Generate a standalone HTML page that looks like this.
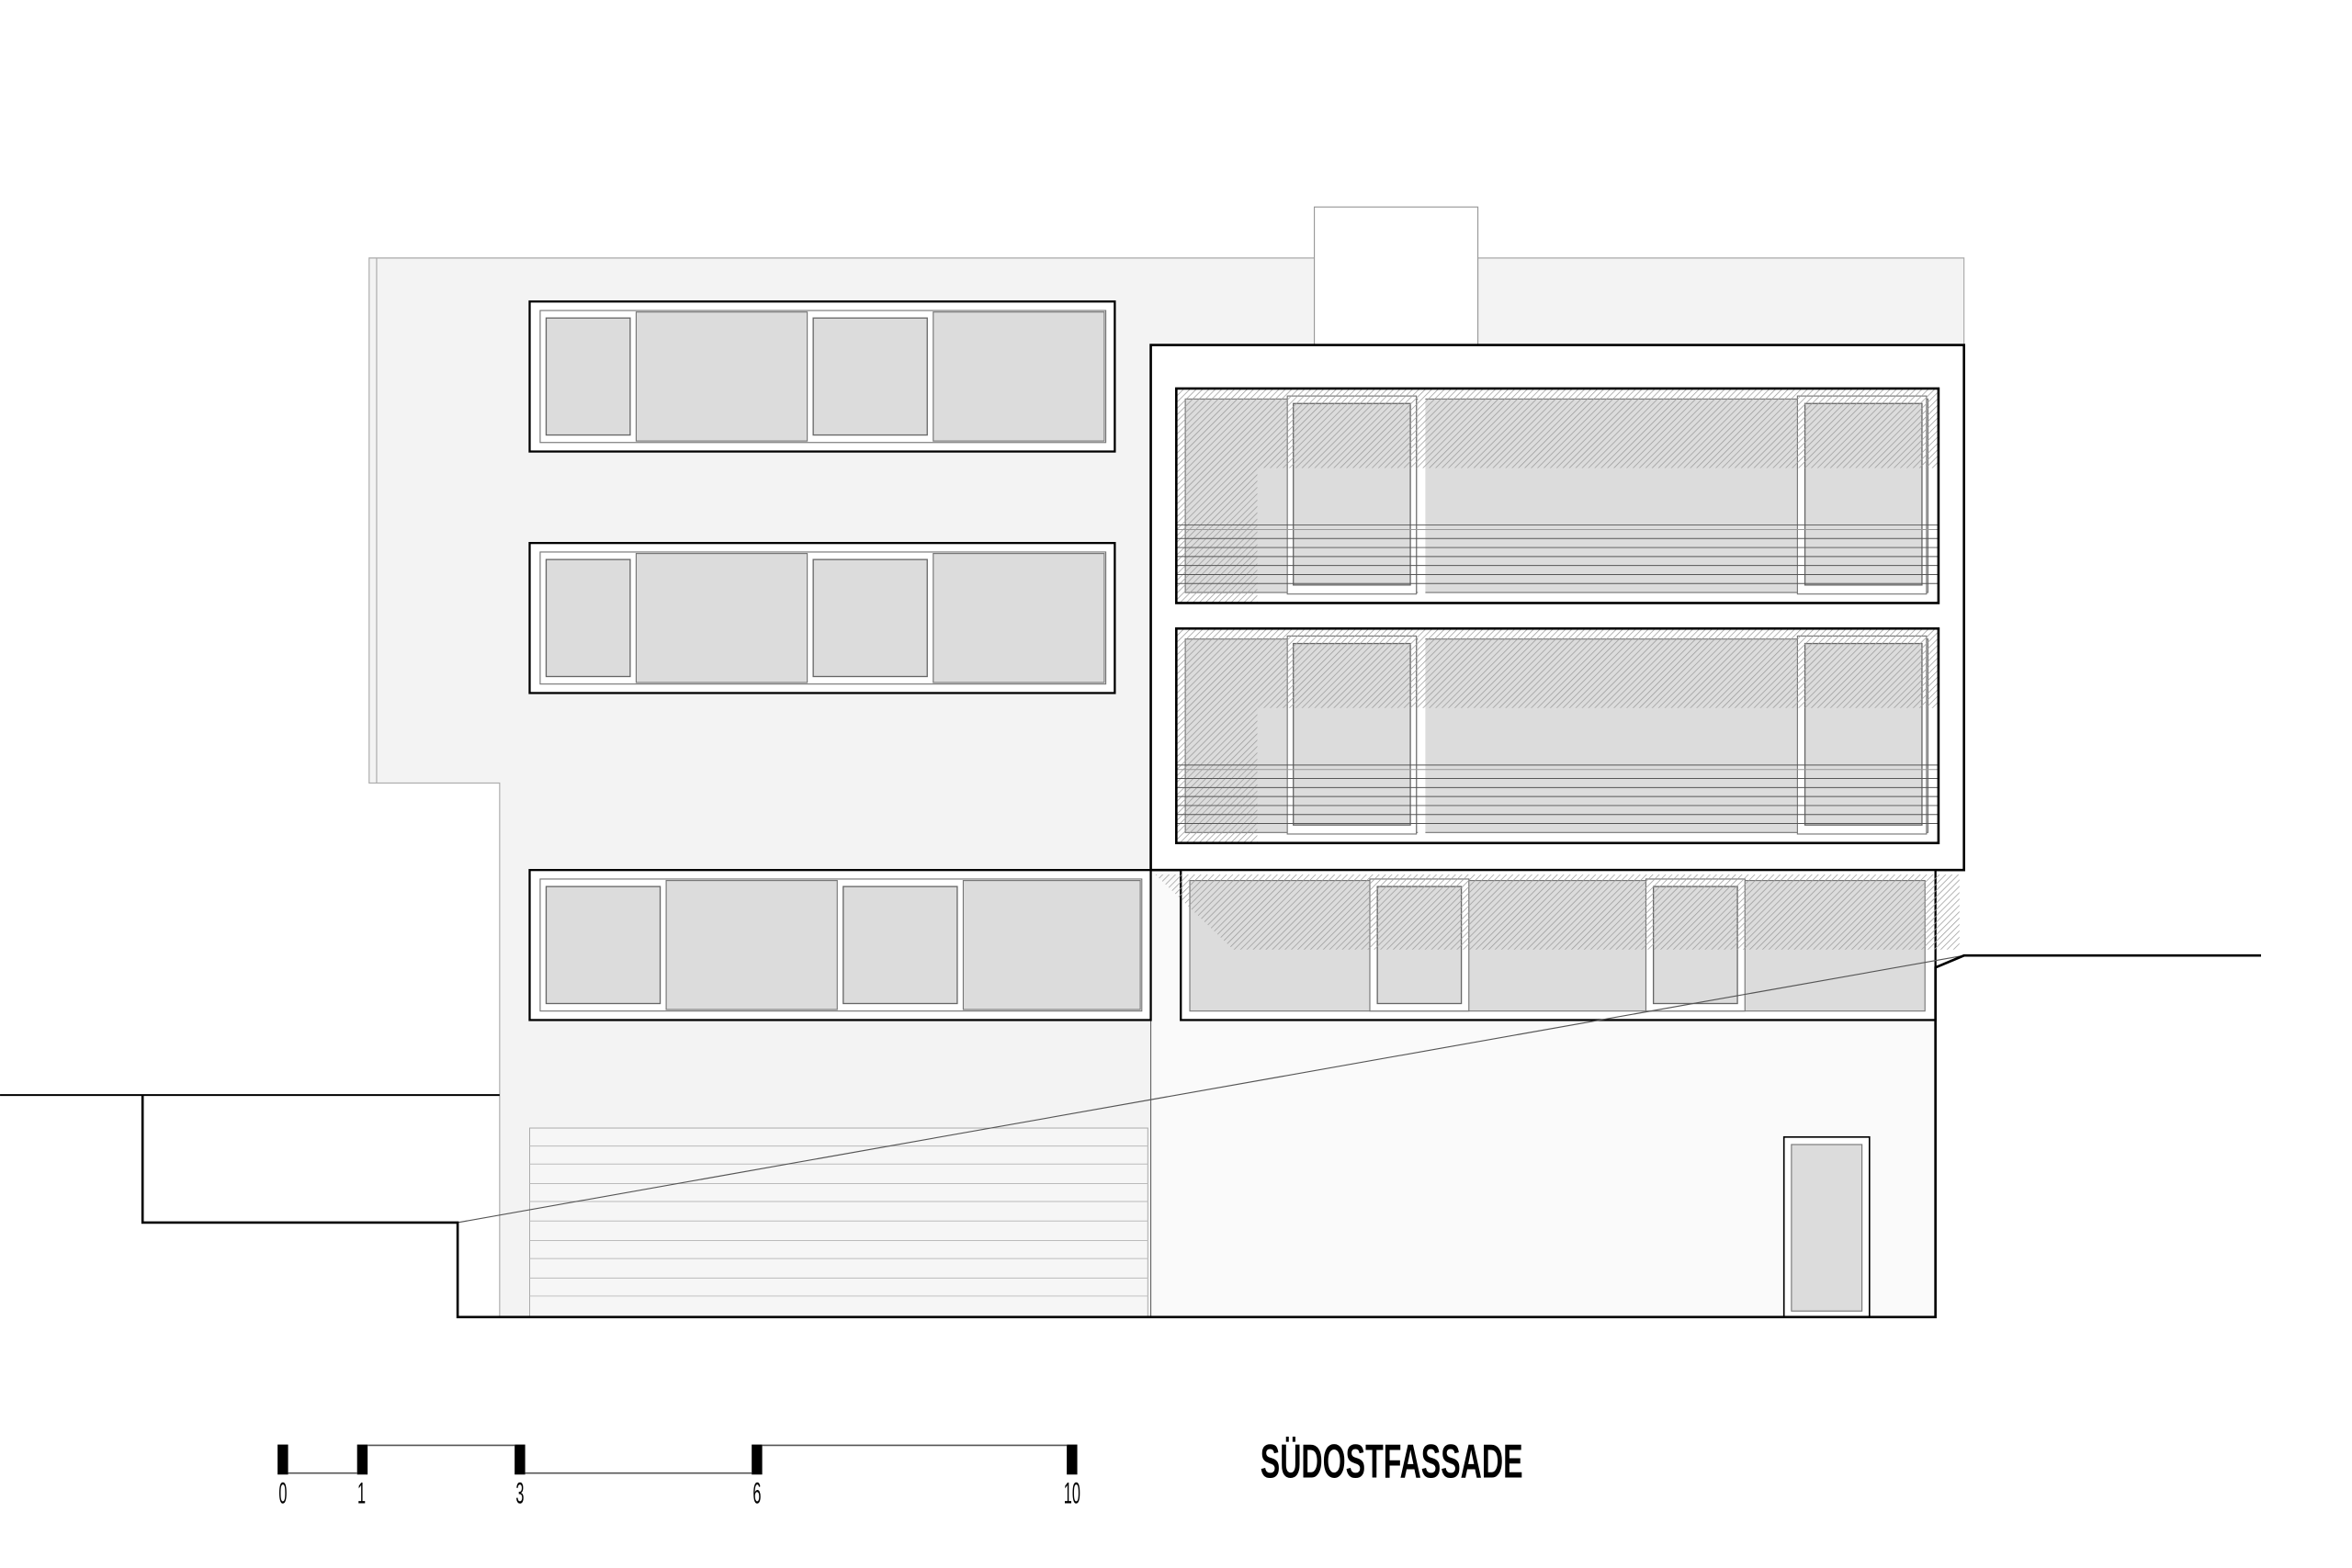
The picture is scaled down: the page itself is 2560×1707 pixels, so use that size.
<!DOCTYPE html>
<html><head><meta charset="utf-8"><style>
html,body{margin:0;padding:0;background:#fff;}
svg{display:block;}
</style></head><body>
<svg width="2560" height="1707" viewBox="0 0 1567.6 1045.3" xmlns="http://www.w3.org/2000/svg">
<defs>
<pattern id="h" patternUnits="userSpaceOnUse" width="3" height="3" patternTransform="rotate(45)">
<rect width="3" height="3" fill="none"/><line x1="0" y1="0" x2="0" y2="3" stroke="#9a9a9a" stroke-width="0.9"/>
</pattern>
<clipPath id="c1"><rect x="784" y="259" width="508" height="143"/></clipPath>
</defs>
<path d="M246 172 H1309 V580 H767 V878 H333 V522 H246 Z" fill="#f3f3f3" stroke="#aaa" stroke-width="0.7"/>
<line x1="251" y1="172" x2="251" y2="522" stroke="#aaa" stroke-width="0.7"/>
<rect x="876" y="138" width="109" height="92" fill="#fff" stroke="#999" stroke-width="0.7"/>
<rect x="767" y="580" width="523" height="298" fill="#fafafa" stroke="#666" stroke-width="0.7"/>
<rect x="767" y="230" width="542" height="350" fill="#fff" stroke="#000" stroke-width="1.6"/>

<g id="wl">
<rect x="353" y="201" width="390" height="100" fill="#fff" stroke="#000" stroke-width="1.4"/>
<rect x="360" y="207" width="377" height="88" fill="#fff" stroke="#777" stroke-width="0.7"/>
<rect x="424" y="208" width="114" height="86" fill="#dcdcdc" stroke="#777" stroke-width="0.7"/>
<rect x="622" y="208" width="114" height="86" fill="#dcdcdc" stroke="#777" stroke-width="0.7"/>
<rect x="364" y="212" width="56" height="78" fill="#dcdcdc" stroke="#666" stroke-width="0.8"/>
<rect x="542" y="212" width="76" height="78" fill="#dcdcdc" stroke="#666" stroke-width="0.8"/>
</g>
<use href="#wl" y="161"/>

<rect x="353" y="580" width="414" height="100" fill="#fff" stroke="#000" stroke-width="1.4"/>
<rect x="360" y="586" width="401" height="88" fill="#fff" stroke="#777" stroke-width="0.7"/>
<rect x="444" y="587" width="114" height="86" fill="#dcdcdc" stroke="#777" stroke-width="0.7"/>
<rect x="642" y="587" width="118" height="86" fill="#dcdcdc" stroke="#777" stroke-width="0.7"/>
<rect x="364" y="591" width="76" height="78" fill="#dcdcdc" stroke="#666" stroke-width="0.8"/>
<rect x="562" y="591" width="76" height="78" fill="#dcdcdc" stroke="#666" stroke-width="0.8"/>

<rect x="787" y="580" width="503" height="100" fill="#fff" stroke="#000" stroke-width="1.4"/>
<rect x="793" y="587" width="490" height="87" fill="#dcdcdc" stroke="#777" stroke-width="0.7"/>
<rect x="913" y="586" width="66" height="88" fill="#fff" stroke="#777" stroke-width="0.7"/>
<rect x="918" y="591" width="56" height="78" fill="#dcdcdc" stroke="#666" stroke-width="0.8"/>
<rect x="1097" y="586" width="66" height="88" fill="#fff" stroke="#777" stroke-width="0.7"/>
<rect x="1102" y="591" width="56" height="78" fill="#dcdcdc" stroke="#666" stroke-width="0.8"/>
<polygon points="770,583 1306,583 1306,633 822,633" fill="url(#h)"/>

<g id="bw">
<rect x="784" y="259" width="508" height="143" fill="#fff"/>
<rect x="790" y="266" width="495" height="129" fill="#dcdcdc" stroke="#777" stroke-width="0.7"/>
<rect x="858" y="264" width="86" height="132" fill="#fff" stroke="#777" stroke-width="0.7"/>
<rect x="862" y="269" width="78" height="121" fill="#dcdcdc" stroke="#666" stroke-width="0.8"/>
<rect x="1198" y="264" width="86" height="132" fill="#fff" stroke="#777" stroke-width="0.7"/>
<rect x="1203" y="269" width="78" height="121" fill="#dcdcdc" stroke="#666" stroke-width="0.8"/>
<rect x="945" y="264" width="5" height="132" fill="#fff"/>
<g clip-path="url(#c1)">
<path d="M784 259 H1292 V312 H838 V402 H784 Z" fill="url(#h)"/>
</g>
<g stroke="#555" stroke-width="0.6">
<line x1="784" y1="350" x2="1292" y2="350"/>
<line x1="784" y1="353" x2="1292" y2="353" stroke="#999"/>
<line x1="784" y1="359" x2="1292" y2="359"/>
<line x1="784" y1="365" x2="1292" y2="365"/>
<line x1="784" y1="371" x2="1292" y2="371"/>
<line x1="784" y1="377" x2="1292" y2="377"/>
<line x1="784" y1="383" x2="1292" y2="383"/>
<line x1="784" y1="389" x2="1292" y2="389"/>
</g>
<rect x="784" y="259" width="508" height="143" fill="none" stroke="#000" stroke-width="1.6"/>
</g>
<use href="#bw" y="160"/>

<rect x="353" y="752" width="412" height="126" fill="#f6f6f6" stroke="#aaa" stroke-width="0.6"/>
<g stroke="#bbb" stroke-width="0.6">
<line x1="353" y1="764" x2="765" y2="764"/><line x1="353" y1="776" x2="765" y2="776"/>
<line x1="353" y1="789" x2="765" y2="789"/><line x1="353" y1="801" x2="765" y2="801"/>
<line x1="353" y1="814" x2="765" y2="814"/><line x1="353" y1="827" x2="765" y2="827"/>
<line x1="353" y1="839" x2="765" y2="839"/><line x1="353" y1="852" x2="765" y2="852"/>
<line x1="353" y1="864" x2="765" y2="864"/>
</g>

<rect x="1189" y="758" width="57" height="120" fill="#fff" stroke="#000" stroke-width="1"/>
<rect x="1194" y="763" width="47" height="111" fill="#dcdcdc" stroke="#777" stroke-width="0.7"/>

<line x1="305" y1="815" x2="1309" y2="637" stroke="#555" stroke-width="0.7"/>

<path d="M0 730 H333" fill="none" stroke="#000" stroke-width="1.2"/>
<path d="M95 730 V815 H305 V878 H1290 V645 L1309 637 H1507" fill="none" stroke="#000" stroke-width="1.6"/>

<g fill="#000">
<rect x="185" y="963" width="7" height="20"/>
<rect x="238" y="963" width="7" height="20"/>
<rect x="343" y="963" width="7" height="20"/>
<rect x="501" y="963" width="7" height="20"/>
<rect x="711" y="963" width="7" height="20"/>
</g>
<g stroke="#555" stroke-width="1">
<line x1="192" y1="982" x2="238" y2="982"/>
<line x1="245" y1="963.5" x2="343" y2="963.5"/>
<line x1="350" y1="982" x2="501" y2="982"/>
<line x1="508" y1="963.5" x2="711" y2="963.5"/>
</g>
<g font-family="Liberation Sans Narrow, Liberation Sans, sans-serif" font-size="20" fill="#000" text-anchor="middle">
<text x="188.5" y="1002" transform="translate(188.5 0) scale(0.5 1) translate(-188.5 0)">0</text>
<text x="241" y="1002" transform="translate(241 0) scale(0.5 1) translate(-241 0)">1</text>
<text x="346.5" y="1002" transform="translate(346.5 0) scale(0.5 1) translate(-346.5 0)">3</text>
<text x="504.5" y="1002" transform="translate(504.5 0) scale(0.5 1) translate(-504.5 0)">6</text>
<text x="714.5" y="1002" transform="translate(714.5 0) scale(0.5 1) translate(-714.5 0)">10</text>
</g>
<text x="840" y="985" font-family="Liberation Sans Narrow, Liberation Sans, sans-serif" font-weight="bold" font-size="32" fill="#000" textLength="175" lengthAdjust="spacingAndGlyphs">SÜDOSTFASSADE</text>
</svg>
</body></html>
